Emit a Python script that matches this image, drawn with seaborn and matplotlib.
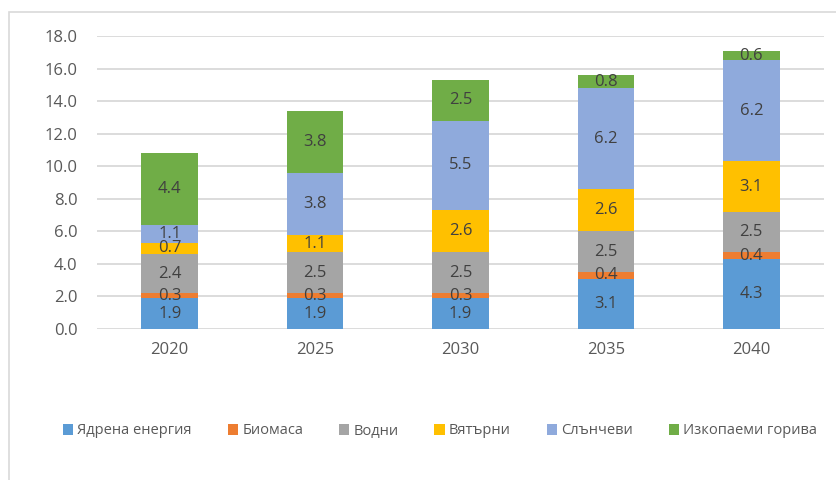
import matplotlib.pyplot as plt
import seaborn as sns
from matplotlib.patches import Rectangle

years = ['2020', '2025', '2030', '2035', '2040']
series = ['Ядрена енергия', 'Биомаса', 'Водни', 'Вятърни', 'Слънчеви', 'Изкопаеми горива']
nuclear = [1.9, 1.9, 1.9, 3.1, 4.3]
biomass = [0.3, 0.3, 0.3, 0.4, 0.4]
hydro = [2.4, 2.5, 2.5, 2.5, 2.5]
wind = [0.7, 1.1, 2.6, 2.6, 3.1]
solar = [1.1, 3.8, 5.5, 6.2, 6.2]
fossil = [4.4, 3.8, 2.5, 0.8, 0.6]
colors = ['#5B9BD5', '#ED7D31', '#A5A5A5', '#FFC000', '#8FAADC', '#70AD47']

sns.set_theme(style='white')
plt.rcParams['font.family'] = ['Open Sans', 'DejaVu Sans']

fig = plt.figure(figsize=(8.37, 4.8), dpi=100)
fig.patches.append(Rectangle((9 / 837, -0.01), 1.0, 1 - 12 / 480 + 0.01, transform=fig.transFigure,
                             fill=False, edgecolor='#D9D9D9', linewidth=1.2))
ax = fig.add_axes([97 / 837, 1 - 329 / 480, (824 - 97) / 837, (329 - 36) / 480])

bottom = [0.0] * len(years)
for name, vals, col in zip(series, [nuclear, biomass, hydro, wind, solar, fossil], colors):
    sns.barplot(x=years, y=vals, bottom=bottom, color=col, width=0.39, label=name, ax=ax,
                saturation=1, linewidth=0)
    bottom = [b + v for b, v in zip(bottom, vals)]

for c in ax.containers:
    ax.bar_label(c, fmt='%.1f', label_type='center', color='#404040', fontsize=12)

ax.set_ylim(0, 18)
ax.set_xlim(-0.5, 4.5)
ax.set_yticks(range(0, 19, 2))
ax.set_yticklabels([f'{v:.1f}' for v in range(0, 19, 2)])
ax.grid(axis='y', color='#D9D9D9', linewidth=1.3)
ax.set_axisbelow(True)
for s in ax.spines.values():
    s.set_visible(False)
ax.tick_params(axis='both', length=0, labelsize=12, colors='#595959')
ax.tick_params(axis='y', pad=14)
ax.tick_params(axis='x', pad=9)
ax.set_xlabel('')
ax.set_ylabel('')

h, l = ax.get_legend_handles_labels()
if ax.legend_:
    ax.legend_.remove()
fig.legend(h, l, loc='center', bbox_to_anchor=(440 / 837, 1 - 431 / 480), ncol=6, frameon=False,
           fontsize=10.5, handlelength=0.7, handleheight=0.7, handletextpad=0.3, columnspacing=2.45,
           labelcolor='#595959')

fig.savefig('out.png', dpi=100)
